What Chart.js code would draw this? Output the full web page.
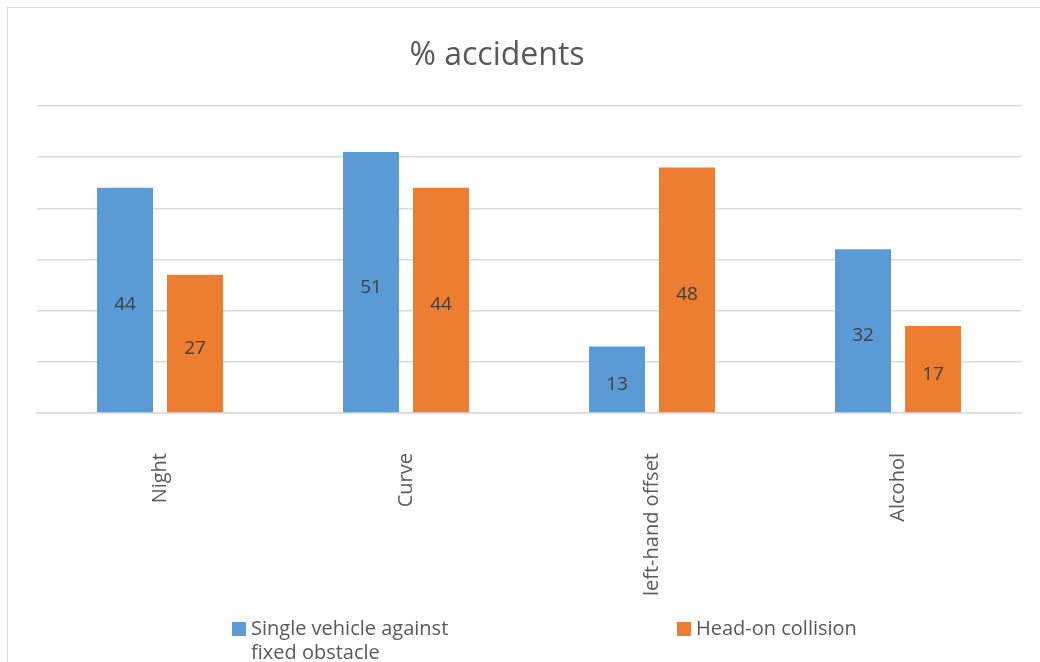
<!DOCTYPE html>
<html>
<head>
<meta charset="utf-8">
<script src="https://cdn.jsdelivr.net/npm/chart.js@4/dist/chart.umd.min.js"></script>
<style>
  html, body { margin: 0; padding: 0; background: #fff; overflow: hidden; }
  #frame { position: absolute; left: 7px; top: 7px; width: 1100px; height: 700px;
           border-left: 1.5px solid #d9d9d9; border-top: 1.5px solid #d9d9d9; }
  #wrap { position: absolute; left: 0; top: 0; width: 1040px; height: 680px; }
</style>
</head>
<body>
<div id="frame"></div>
<div id="wrap"><canvas id="chart"></canvas></div>
<script>
  // chart data
  const TITLE = "% accidents";
  const CATEGORIES = ["Night", "Curve", "left-hand offset", "Alcohol"];
  const SERIES_NAMES = [["Single vehicle against", "fixed obstacle"], ["Head-on collision"]];
  const SINGLE_VEHICLE = [44, 51, 13, 32];
  const HEAD_ON = [27, 44, 48, 17];
  const Y_MAX = 60;
  const Y_STEP = 10;

  const C = { blue: "#5b9bd5", orange: "#ed7d31", grid: "#d9d9d9", text: "#595959", label: "#404040" };
  const FONT = "'Open Sans', Lato, sans-serif";

  // value labels in the middle of each bar
  const barLabels = {
    id: "barLabels",
    afterDatasetsDraw(chart) {
      const ctx = chart.ctx;
      ctx.save();
      ctx.font = "19px " + FONT;
      ctx.fillStyle = C.label;
      ctx.textAlign = "center";
      ctx.textBaseline = "middle";
      chart.data.datasets.forEach((ds, i) => {
        chart.getDatasetMeta(i).data.forEach((bar, j) => {
          ctx.fillText(String(ds.data[j]), bar.x, (bar.y + bar.base) / 2 + 5);
        });
      });
      ctx.restore();
    },
  };

  // title sits a little left of centre, as in the source sheet
  const sheetTitle = {
    id: "sheetTitle",
    afterDraw(chart) {
      const ctx = chart.ctx;
      ctx.save();
      ctx.font = "32px " + FONT;
      ctx.fillStyle = C.text;
      ctx.textAlign = "center";
      ctx.textBaseline = "middle";
      ctx.fillText(TITLE, 497, 56);
      ctx.restore();
    },
  };

  // Excel-like legend, wide spacing and wrapped first entry
  const LEGEND_X = [232, 677];
  const sheetLegend = {
    id: "sheetLegend",
    afterDraw(chart) {
      const ctx = chart.ctx;
      ctx.save();
      ctx.font = "20px " + FONT;
      ctx.textBaseline = "middle";
      chart.data.datasets.forEach((ds, i) => {
        const x = LEGEND_X[i], y = 629;
        ctx.fillStyle = ds.backgroundColor;
        ctx.fillRect(x, y - 7, 14, 14);
        ctx.fillStyle = C.text;
        SERIES_NAMES[i].forEach((line, k) => ctx.fillText(line, x + 19, y + k * 24));
      });
      ctx.restore();
    },
  };

  new Chart(document.getElementById("chart"), {
    type: "bar",
    data: {
      labels: CATEGORIES,
      datasets: [
        { label: SERIES_NAMES[0].join(" "), data: SINGLE_VEHICLE, backgroundColor: C.blue,
          categoryPercentage: 0.569, barPercentage: 0.8 },
        { label: SERIES_NAMES[1].join(" "), data: HEAD_ON, backgroundColor: C.orange,
          categoryPercentage: 0.569, barPercentage: 0.8 },
      ],
    },
    options: {
      responsive: true, maintainAspectRatio: false, animation: false,
      layout: { padding: { top: 106, left: 37, right: 19, bottom: 67 } },
      scales: {
        x: {
          grid: { display: false },
          border: { color: C.grid, width: 1.5 },
          ticks: { color: C.text, font: { family: FONT, size: 20 }, minRotation: 90, maxRotation: 90, padding: 32 },
          afterFit: (s) => { s.height = 200; },
        },
        y: {
          min: 0, max: Y_MAX,
          ticks: { display: false, stepSize: Y_STEP },
          grid: { color: C.grid, lineWidth: 1.5, drawTicks: false },
          border: { display: false },
          afterFit: (s) => { s.width = 0; },
        },
      },
      plugins: { legend: { display: false }, title: { display: false }, tooltip: { enabled: false } },
    },
    plugins: [barLabels, sheetTitle, sheetLegend],
  });
</script>
</body>
</html>
